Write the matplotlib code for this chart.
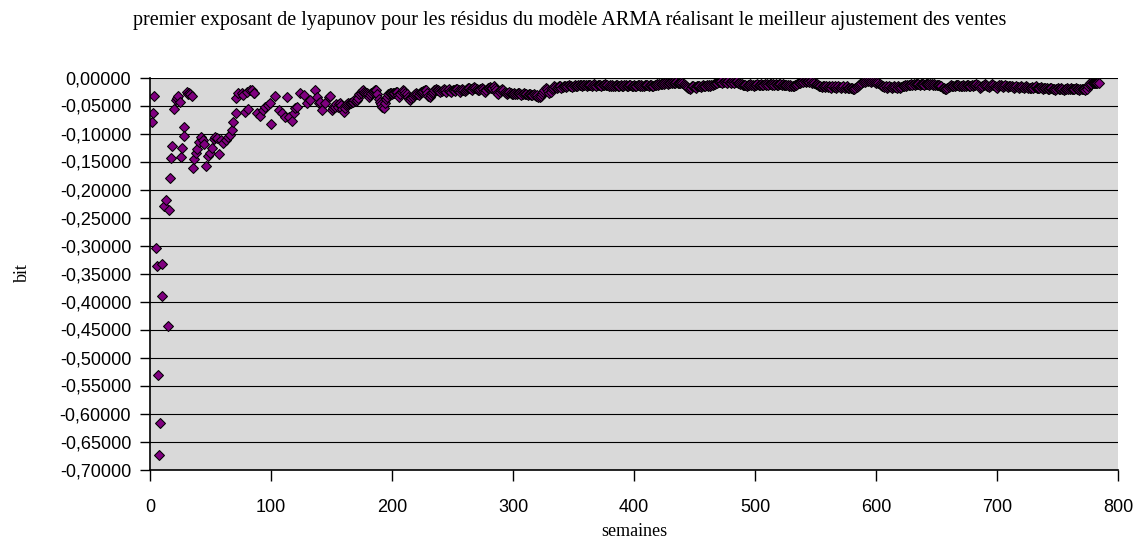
import numpy as np
import matplotlib.pyplot as plt
from matplotlib.ticker import MultipleLocator, FuncFormatter

# premieres semaines : points disperses, lus un par un (en millièmes de bit)
semaines_debut = [1.7, 2.7, 3.3, 5.0, 5.5, 6.9, 7.7, 8.6, 9.9, 10.2,
                  11.6, 13.3, 14.9, 15.5, 16.6, 17.7, 18.0, 19.9, 21.5, 22.5,
                  23.5, 24.8, 25.4, 26.5, 27.9, 28.2, 30.4, 31.3, 32.3, 33.4,
                  34.5, 35.3, 36.7, 38.1, 39.2, 40.8, 42.0, 43.6, 45.0, 46.6,
                  47.8, 49.7, 51.3, 52.5, 53.8, 55.5, 57.4, 58.8, 60.7, 62.9,
                  64.6, 66.3, 67.9, 69.0, 71.2, 71.2, 73.1, 75.9, 76.5, 78.7,
                  80.0, 81.4, 82.8, 84.2, 85.6, 86.1, 88.4, 91.1, 93.3, 95.2,
                  97.2, 99.4, 99.9, 103.5, 106.3, 109.0, 111.8, 113.2, 114.5, 117.3,
                  118.7, 120.1, 121.5, 124.2, 127.0, 129.8, 132.5, 136.6, 138.0, 139.4,
                  140.8, 142.2, 144.9, 147.7, 149.0, 150.5]
exposant_debut = [-80, -63, -33, -305, -336, -532, -674, -617, -390, -333,
                  -230, -218, -443, -236, -179, -144, -123, -56, -40, -36,
                  -33, -43, -142, -125, -88, -104, -25, -30, -28, -30,
                  -33, -161, -146, -135, -128, -116, -107, -111, -119, -158,
                  -141, -134, -125, -110, -106, -108, -137, -111, -117, -111,
                  -107, -103, -94, -79, -64, -37, -28, -28, -31, -61,
                  -25, -57, -22, -22, -28, -28, -64, -69, -58, -52,
                  -49, -46, -83, -33, -58, -64, -70, -35, -70, -77,
                  -64, -55, -52, -28, -31, -46, -40, -22, -34, -46,
                  -43, -58, -46, -34, -33, -58]

# a partir de la semaine 151 : une valeur par semaine (millièmes de bit)
premiere_semaine_suite = 151
exposant_suite = [
    -55, -50, -52, -48, -52, -47, -46, -49, -56, -61,   # 151
    -54, -49, -47, -46, -45, -46, -44, -43, -41, -42,
    -40, -36, -30, -28, -24, -22, -25, -28, -27, -30,
    -34, -32, -28, -25, -24, -22, -23, -30, -38, -43,
    -48, -52, -55, -46, -38, -34, -30, -28, -27, -29,
    -28, -27, -25, -26, -31, -34, -30, -25, -22, -24,   # 201
    -28, -30, -34, -38, -40, -37, -34, -31, -29, -28,
    -30, -31, -28, -26, -25, -24, -22, -23, -28, -33,
    -34, -31, -28, -25, -22, -21, -23, -22, -24, -26,
    -24, -22, -20, -23, -25, -22, -21, -24, -26, -23,
    -22, -24, -21, -20, -23, -25, -22, -20, -22, -24,   # 251
    -23, -21, -19, -18, -20, -22, -19, -17, -18, -21,
    -23, -22, -20, -19, -21, -24, -26, -22, -19, -18,
    -17, -19, -18, -16, -18, -23, -27, -30, -26, -22,
    -20, -23, -25, -27, -29, -28, -26, -28, -30, -29,
    -28, -30, -29, -27, -28, -30, -31, -29, -28, -30,   # 301
    -29, -31, -30, -29, -31, -32, -30, -31, -33, -32,
    -34, -35, -33, -30, -26, -22, -19, -20, -24, -28,
    -25, -21, -18, -16, -17, -19, -17, -15, -16, -18,
    -17, -16, -15, -17, -16, -14, -15, -16, -17, -15,
    -14, -15, -16, -14, -13, -14, -15, -14, -13, -14,   # 351
    -15, -14, -13, -14, -15, -13, -12, -14, -15, -13,
    -14, -13, -15, -14, -13, -12, -14, -13, -15, -14,
    -15, -14, -16, -15, -13, -14, -16, -15, -14, -16,
    -15, -13, -14, -16, -15, -14, -13, -15, -16, -14,
    -15, -16, -14, -13, -15, -14, -16, -15, -14, -13,   # 401
    -14, -15, -13, -14, -16, -15, -14, -13, -12, -13,
    -12, -11, -12, -10, -11, -9, -10, -11, -9, -10,
    -9, -8, -10, -9, -8, -9, -10, -9, -8, -10,
    -11, -13, -15, -17, -19, -20, -18, -16, -15, -17,
    -18, -16, -15, -16, -17, -15, -14, -16, -15, -14,   # 451
    -15, -14, -15, -13, -14, -12, -11, -10, -9, -8,
    -8, -7, -9, -8, -7, -8, -9, -7, -8, -9,
    -7, -8, -9, -8, -7, -9, -10, -11, -12, -13,
    -14, -13, -15, -14, -13, -12, -14, -13, -15, -14,
    -13, -12, -14, -13, -12, -13, -14, -12, -13, -12,   # 501
    -13, -12, -11, -13, -12, -13, -12, -14, -13, -12,
    -12, -13, -12, -13, -14, -13, -14, -15, -14, -15,
    -16, -15, -14, -13, -11, -10, -9, -8, -7, -8,
    -7, -8, -6, -7, -8, -7, -9, -8, -10, -11,
    -12, -14, -15, -16, -17, -16, -15, -17, -16, -17,   # 551
    -16, -17, -18, -16, -17, -16, -18, -17, -16, -17,
    -18, -17, -16, -18, -17, -16, -18, -19, -18, -19,
    -20, -21, -19, -17, -15, -13, -11, -9, -8, -7,
    -8, -6, -7, -5, -7, -8, -6, -7, -8, -9,
    -8, -10, -12, -14, -15, -16, -17, -16, -18, -17,   # 601
    -16, -17, -18, -17, -16, -17, -18, -16, -17, -18,
    -17, -16, -15, -14, -15, -13, -14, -13, -12, -13,
    -12, -13, -12, -11, -12, -13, -12, -11, -12, -13,
    -12, -11, -12, -13, -12, -11, -13, -12, -14, -13,
    -13, -14, -15, -16, -18, -19, -20, -21, -19, -17,   # 651
    -15, -14, -15, -16, -15, -14, -13, -14, -15, -16,
    -15, -14, -16, -15, -13, -14, -16, -15, -14, -15,
    -14, -13, -12, -14, -16, -18, -17, -15, -13, -12,
    -13, -15, -17, -16, -14, -12, -13, -15, -17, -18,
    -16, -14, -13, -15, -17, -16, -14, -15, -17, -16,   # 701
    -15, -16, -17, -18, -17, -16, -17, -18, -17, -16,
    -17, -18, -17, -16, -17, -18, -19, -18, -17, -18,
    -17, -16, -18, -19, -18, -17, -19, -20, -18, -19,
    -19, -20, -21, -19, -18, -20, -21, -22, -20, -19,
    -20, -21, -19, -20, -22, -21, -20, -19, -21, -20,   # 751
    -19, -20, -21, -20, -19, -20, -21, -22, -20, -21,
    -20, -21, -22, -20, -15, -11, -10, -11, -10, -9,
    -10, -9, -10, -9,
]

titre = ("premier exposant de lyapunov pour les résidus du modèle ARMA "
         "réalisant le meilleur ajustement des ventes")

semaines_suite = np.arange(premiere_semaine_suite,
                           premiere_semaine_suite + len(exposant_suite))
semaines = np.concatenate([semaines_debut, semaines_suite])
exposant = np.concatenate([exposant_debut, exposant_suite]) / 1000.0

W, H = 1139, 541
fig = plt.figure(figsize=(W / 100, H / 100), dpi=100)
ax = fig.add_axes([150 / W, 71.5 / H, 968 / W, 392 / H])
ax.set_facecolor("#d9d9d9")

ax.plot(semaines, exposant, ls="none", marker="D", ms=4.8,
        mfc="#800080", mec="black", mew=0.75)

ax.set_xlim(0, 800)
ax.set_ylim(-0.7, 0)
ax.xaxis.set_major_locator(MultipleLocator(100))
ax.yaxis.set_major_locator(MultipleLocator(0.05))
ax.yaxis.set_major_formatter(
    FuncFormatter(lambda v, p: f"{v:.5f}".replace(".", ",").replace("-0,00000", "0,00000")))

ax.yaxis.grid(True, color="black", lw=0.8)
ax.set_axisbelow(True)

for s in ["top", "right"]:
    ax.spines[s].set_visible(False)
ax.spines["left"].set_linewidth(1.2)
ax.spines["bottom"].set_linewidth(1.2)

ax.tick_params(axis="y", length=7, width=1, pad=6.5, labelsize=13)
ax.tick_params(axis="x", length=8, width=1, pad=13, labelsize=13)
for lab in ax.get_xticklabels() + ax.get_yticklabels():
    lab.set_family("Liberation Sans")

fig.text(570 / W, 1 - 20 / H, titre, ha="center", va="center",
         family="Liberation Serif", fontsize=14.5)
fig.text(634 / W, 1 - 531 / H, "semaines", ha="center", va="center",
         family="Liberation Serif", fontsize=13)
fig.text(22 / W, 1 - 273 / H, "bit", ha="center", va="center", rotation=90,
         family="Liberation Serif", fontsize=13)

fig.savefig("out.png", dpi=100)
plt.close(fig)
